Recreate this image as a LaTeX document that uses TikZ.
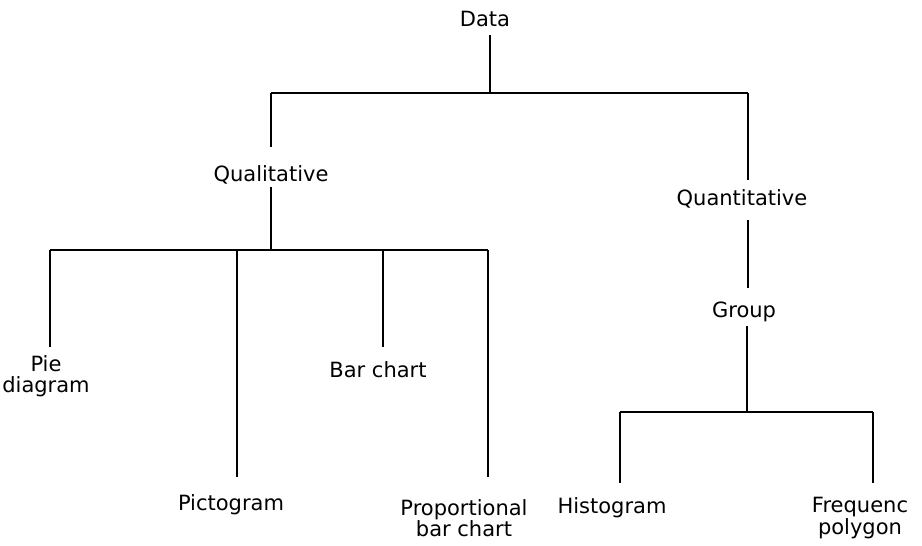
\documentclass[tikz,border=0pt]{standalone}
\usepackage{fontspec}
\setmainfont{DejaVu Sans}
\usetikzlibrary{calc}
\begin{document}
\begin{tikzpicture}[x=1pt,y=-1pt,
  lbl/.style={anchor=north,inner sep=0pt,text height=15pt,text depth=5pt,
    font=\fontsize{21}{21}\selectfont},
  lbltwo/.style={anchor=north,inner sep=0pt,
    font=\fontsize{21}{21.5}\selectfont,align=center},
  conn/.style={line width=1.7pt,line cap=butt}]
\useasboundingbox[fill=white] (0,0) rectangle (922,546);
% labels
\node[lbl] (data) at (485,11) {Data};
\node[lbl] (qual) at (271,166) {Qualitative};
\node[lbl] (quant) at (742,190) {Quantitative};
\node[lbl] (group) at (744,302) {Group};
\node[lbltwo] (pie) at (46,355) {Pie\\diagram};
\node[lbl] (picto) at (231,495) {Pictogram};
\node[lbl] (bar) at (378,362) {Bar chart};
\node[lbltwo] (prop) at (464,499) {Proportional\\bar chart};
\node[lbl] (hist) at (612,498) {Histogram};
\node[lbltwo] (freq) at (860,497) {Frequenc\\polygon};
% junctions
\coordinate (d0) at (490,93);
\coordinate (dl) at (271,93);
\coordinate (dr) at (748,93);
\coordinate (q0) at (271,250);
\coordinate (ql) at (50,250);
\coordinate (qa) at (237,250);
\coordinate (qb) at (383,250);
\coordinate (qr) at (488,250);
\coordinate (g0) at (747,412);
\coordinate (gl) at (620,412);
\coordinate (gr) at (873,412);
% connectors
\draw[conn] ($(d0 |- data.south)+(0,4)$) -- (d0);
\draw[conn] (dl) -- (dr);
\draw[conn] (dl) -- ($(dl |- qual.north)+(0,-19)$);
\draw[conn] ($(q0 |- qual.south)+(0,1)$) -- (q0);
\draw[conn] (dr) -- ($(dr |- quant.north)+(0,-10)$);
\draw[conn] ($(dr |- quant.south)+(0,10)$) -- ($(dr |- group.north)+(0,-14)$);
\draw[conn] ($(g0 |- group.south)+(0,4)$) -- (g0);
\draw[conn] (ql) -- (qr);
\draw[conn] (ql) -- ($(ql |- pie.north)+(0,-8)$);
\draw[conn] (qa) -- ($(qa |- picto.north)+(0,-18)$);
\draw[conn] (qb) -- ($(qb |- bar.north)+(0,-15)$);
\draw[conn] (qr) -- ($(qr |- prop.north)+(0,-22)$);
\draw[conn] (gl) -- (gr);
\draw[conn] (gl) -- ($(gl |- hist.north)+(0,-15)$);
\draw[conn] (gr) -- ($(gr |- freq.north)+(0,-14)$);
\end{tikzpicture}
\end{document}
